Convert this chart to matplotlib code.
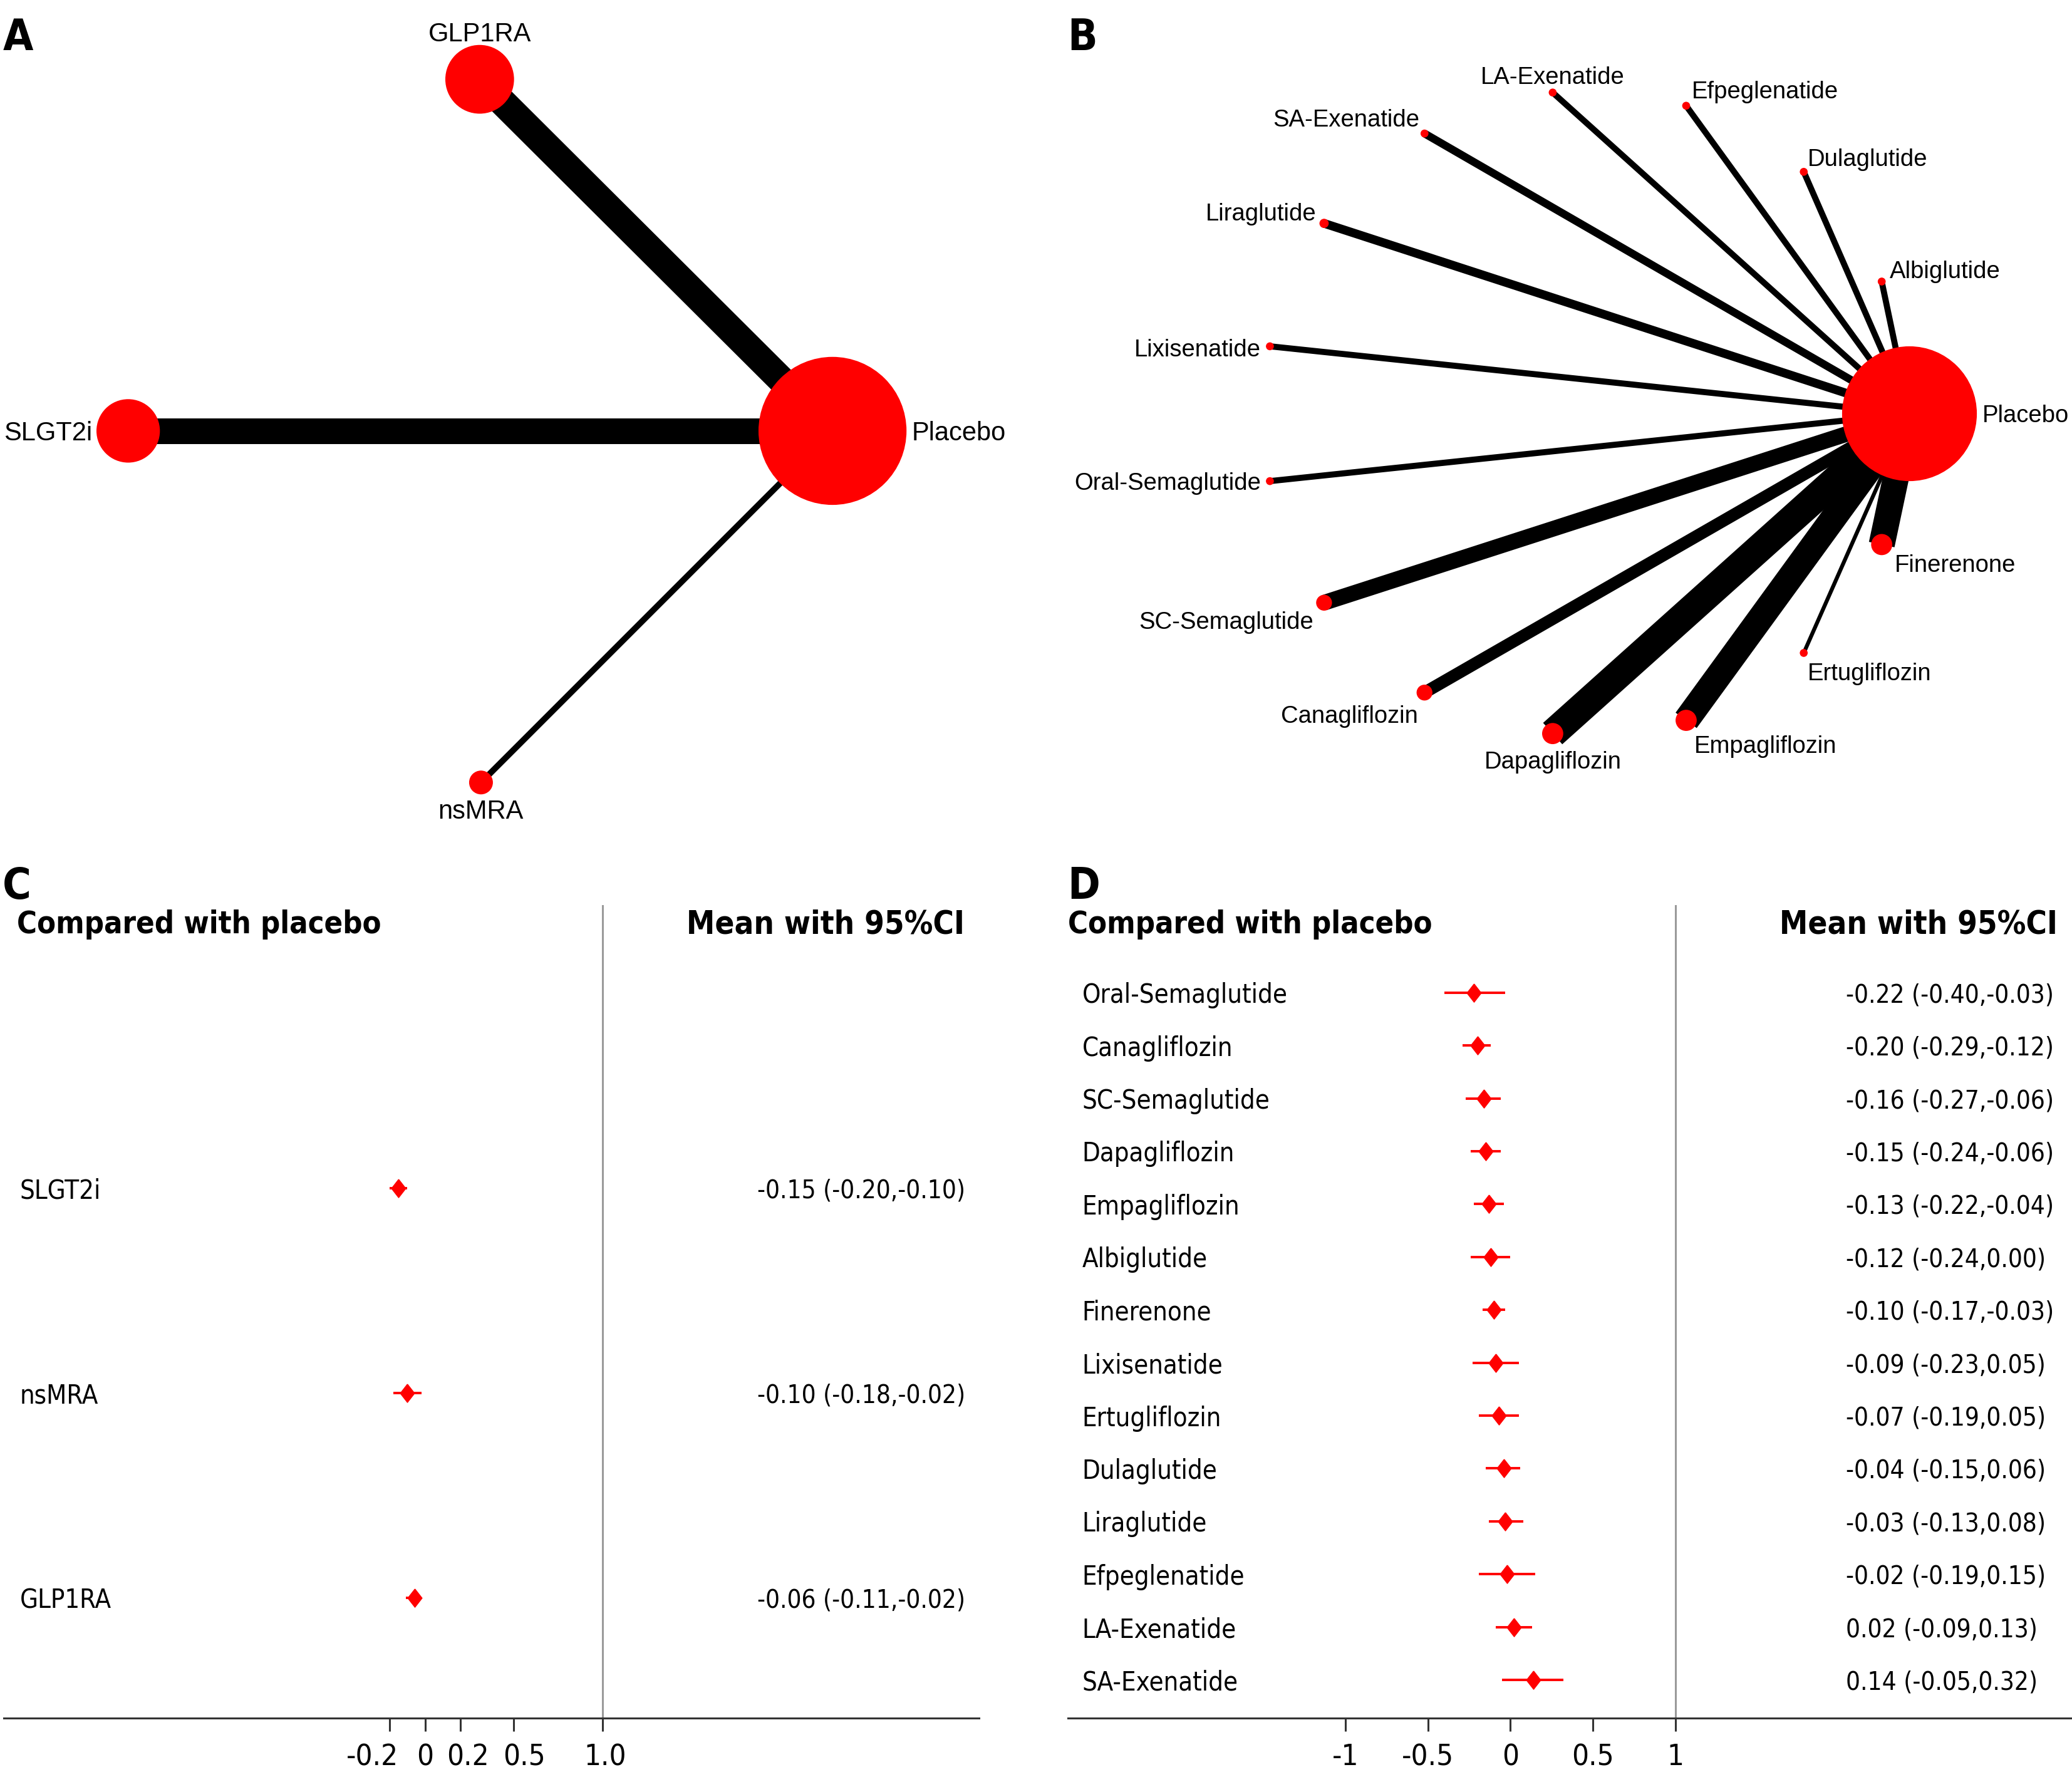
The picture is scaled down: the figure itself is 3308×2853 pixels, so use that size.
import matplotlib
matplotlib.use('Agg')
import matplotlib.pyplot as plt
from matplotlib.patches import Circle
from matplotlib.transforms import blended_transform_factory, ScaledTranslation

# reference grid (the figure is laid out on a 1568 x 1352 grid)
W, H = 1568, 1352

def fx(x):
    return x / W

def fy(y):
    return 1 - y / H

NET_FONT = 'Liberation Sans'
FOREST_FONT = 'DejaVu Sans'
STRETCH = 'condensed'

# ---------------- Panel A: class network ----------------
a_nodes = ['Placebo', 'GLP1RA', 'SLGT2i', 'nsMRA']
a_x = [630, 363, 97, 364]
a_y = [326, 60, 326, 592]
a_r = [56, 26, 24, 9]
a_edges = [('GLP1RA', 'Placebo'), ('SLGT2i', 'Placebo'), ('nsMRA', 'Placebo')]
a_edge_w = [32, 29.5, 7]

# ---------------- Panel B: drug network ----------------
b_nodes = ['Placebo', 'Finerenone', 'Ertugliflozin', 'Empagliflozin', 'Dapagliflozin',
           'Canagliflozin', 'SC-Semaglutide', 'Oral-Semaglutide', 'Lixisenatide',
           'Liraglutide', 'SA-Exenatide', 'LA-Exenatide', 'Efpeglenatide',
           'Dulaglutide', 'Albiglutide']
b_x = [1445, 1424, 1365, 1276, 1175, 1078, 1002, 961, 961, 1002, 1078, 1175, 1276, 1365, 1424]
b_y = [313, 412, 494, 545, 555, 524, 456, 364, 262, 169, 101, 70, 80, 130, 213]
b_r = [51, 8, 3, 8, 8, 6, 6, 3, 3, 3.5, 3, 3, 3, 3, 3]
b_edge_w = [30, 4.5, 30, 33, 14, 18, 7, 7, 10, 9, 7, 7, 7, 7]  # edges to Placebo, in node order

# ---------------- Panel C: class forest ----------------
c_names = ['SLGT2i', 'nsMRA', 'GLP1RA']
c_mean = [-0.15, -0.10, -0.06]
c_lo = [-0.20, -0.18, -0.11]
c_hi = [-0.10, -0.02, -0.02]
c_ticks = [-0.2, 0, 0.2, 0.5, 1.0]
c_ticklabels = ['-0.2', '0', '0.2', '0.5', '1.0']
c_label_shift = [-28, 0, 12, 17, 4]   # px nudges of the tick labels, as in the original

# ---------------- Panel D: drug forest ----------------
d_names = ['Oral-Semaglutide', 'Canagliflozin', 'SC-Semaglutide', 'Dapagliflozin',
           'Empagliflozin', 'Albiglutide', 'Finerenone', 'Lixisenatide', 'Ertugliflozin',
           'Dulaglutide', 'Liraglutide', 'Efpeglenatide', 'LA-Exenatide', 'SA-Exenatide']
d_mean = [-0.22, -0.20, -0.16, -0.15, -0.13, -0.12, -0.10, -0.09, -0.07, -0.04, -0.03, -0.02, 0.02, 0.14]
d_lo = [-0.40, -0.29, -0.27, -0.24, -0.22, -0.24, -0.17, -0.23, -0.19, -0.15, -0.13, -0.19, -0.09, -0.05]
d_hi = [-0.03, -0.12, -0.06, -0.06, -0.04, 0.00, -0.03, 0.05, 0.05, 0.06, 0.08, 0.15, 0.13, 0.32]
d_ticks = [-1, -0.5, 0, 0.5, 1]
d_ticklabels = ['-1', '-0.5', '0', '0.5', '1']
d_label_shift = [0, 0, 0, 0, 0]

fig = plt.figure(figsize=(33.08, 28.53), dpi=100)

# network panels share one canvas axes in grid units
net = fig.add_axes([0, 0, 1, 1])
net.set_xlim(0, W)
net.set_ylim(H, 0)
net.axis('off')

def draw_network(ax, names, xs, ys, rs, edges, widths):
    pos = {n: (x, y) for n, x, y in zip(names, xs, ys)}
    for (a, b), w in zip(edges, widths):
        ax.plot([pos[a][0], pos[b][0]], [pos[a][1], pos[b][1]], color='black',
                lw=w, solid_capstyle='butt', zorder=1)
    for n, x, y, r in zip(names, xs, ys, rs):
        ax.add_patch(Circle((x, y), r, color='#ff0000', lw=0, zorder=2))

draw_network(net, a_nodes, a_x, a_y, a_r, a_edges, a_edge_w)
b_edges = [(n, 'Placebo') for n in b_nodes[1:]]
draw_network(net, b_nodes, b_x, b_y, b_r, b_edges, b_edge_w)

# labels for panel A
a_lab = {'Placebo': ('left', 1, 0, 4),
         'GLP1RA': ('center', 0, -1, 10),
         'SLGT2i': ('right', -1, 0, 3),
         'nsMRA': ('center', 0, 1, 11)}
for n, x, y, r in zip(a_nodes, a_x, a_y, a_r):
    ha, sx, sy, gap = a_lab[n]
    net.text(x + sx * (r + gap), y + sy * (r + gap), n, ha=ha, va='center_baseline',
             fontsize=30, family=NET_FONT)

# labels for panel B: (ha, dx, dy) relative to node
b_lab = {'Placebo': ('left', 55, 0), 'Finerenone': ('left', 10, 14),
         'Ertugliflozin': ('left', 3, 14), 'Empagliflozin': ('left', 6, 18),
         'Dapagliflozin': ('center', 0, 20), 'Canagliflozin': ('right', -5, 16),
         'SC-Semaglutide': ('right', -8, 13), 'Oral-Semaglutide': ('right', -7, 0),
         'Lixisenatide': ('right', -7, 1), 'Liraglutide': ('right', -6, -9),
         'SA-Exenatide': ('right', -4, -12), 'LA-Exenatide': ('center', 0, -13),
         'Efpeglenatide': ('left', 4, -12), 'Dulaglutide': ('left', 3, -11),
         'Albiglutide': ('left', 6, -9)}
for n, x, y in zip(b_nodes, b_x, b_y):
    ha, dx, dy = b_lab[n]
    net.text(x + dx, y + dy, n, ha=ha, va='center_baseline', fontsize=27.5, family=NET_FONT)

# panel letters
for letter, (x, y) in zip('ABCD', [(2, 38), (808, 38), (2, 680), (808, 680)]):
    fig.text(fx(x), fy(y), letter, fontsize=50, fontweight='bold', family=FOREST_FONT,
             fontstretch=STRETCH, ha='left', va='baseline')

diamond = [(0, 1), (0.78, 0), (0, -1), (-0.78, 0), (0, 1)]

def draw_forest(left, right, zero_px, unit_px, row0_px, row_step, names, mean, lo, hi,
                ticks, ticklabels, shifts, head_x, lab_x, ci_x):
    top, bottom = 685, 1300
    ax = fig.add_axes([fx(left), fy(bottom), fx(right) - fx(left), fy(top) - fy(bottom)])
    ax.set_xlim((left - zero_px) / unit_px, (right - zero_px) / unit_px)
    ax.set_ylim((bottom - row0_px) / row_step, (top - row0_px) / row_step)
    for s in ['top', 'left', 'right']:
        ax.spines[s].set_visible(False)
    ax.spines['bottom'].set_color('#333333')
    ax.spines['bottom'].set_linewidth(2.2)
    ax.set_yticks([])
    ax.set_xticks(ticks)
    ax.tick_params(axis='x', length=15, width=2.2, color='#333333', labelbottom=False)
    # tick labels drawn by hand so each can be nudged like the original
    xtr = blended_transform_factory(ax.transData, ax.transAxes)
    for t, lab, dx in zip(ticks, ticklabels, shifts):
        off = ScaledTranslation(dx / 100, -40 / 100, fig.dpi_scale_trans)
        ax.text(t, 0, lab, transform=xtr + off, ha='center', va='top', fontsize=34,
                family=FOREST_FONT, fontstretch=STRETCH)
    ax.axvline(1.0, color='#9a9a9a', lw=2.2, zorder=0)
    rows = list(range(len(names)))
    ax.hlines(rows, lo, hi, color='#ff0000', lw=2.8, zorder=2)
    ax.plot(mean, rows, ls='none', marker=diamond, ms=21, color='#ff0000',
            mec='#ff0000', zorder=3)
    tr = blended_transform_factory(ax.transAxes, ax.transData)
    width = right - left
    head_y = (697 - row0_px) / row_step
    ax.text((head_x - left) / width, head_y, 'Compared with placebo', transform=tr,
            ha='left', va='center_baseline', fontsize=35, fontweight='bold',
            family=FOREST_FONT, fontstretch=STRETCH)
    ax.text(1 - (right - ci_x[1]) / width, head_y, 'Mean with 95%CI', transform=tr,
            ha='right', va='center_baseline', fontsize=36.5, fontweight='bold',
            family=FOREST_FONT, fontstretch=STRETCH)
    for i, (n, m, l, h) in enumerate(zip(names, mean, lo, hi)):
        ax.text((lab_x - left) / width, i, n, transform=tr, ha='left',
                va='center_baseline', fontsize=30, family=FOREST_FONT, fontstretch=STRETCH)
        ax.text((ci_x[0] - left) / width, i, f'{m:.2f} ({l:.2f},{h:.2f})', transform=tr,
                ha='left', va='center_baseline', fontsize=29, family=FOREST_FONT,
                fontstretch=STRETCH)
    return ax

draw_forest(3, 741, 321.7, 134.3, 899, 155, c_names, c_mean, c_lo, c_hi,
            c_ticks, c_ticklabels, c_label_shift, 13, 15, (573, 730))
draw_forest(808, 1568, 1143, 125, 751, 40, d_names, d_mean, d_lo, d_hi,
            d_ticks, d_ticklabels, d_label_shift, 808, 819, (1397, 1557))

fig.savefig('out.png', dpi=100)
